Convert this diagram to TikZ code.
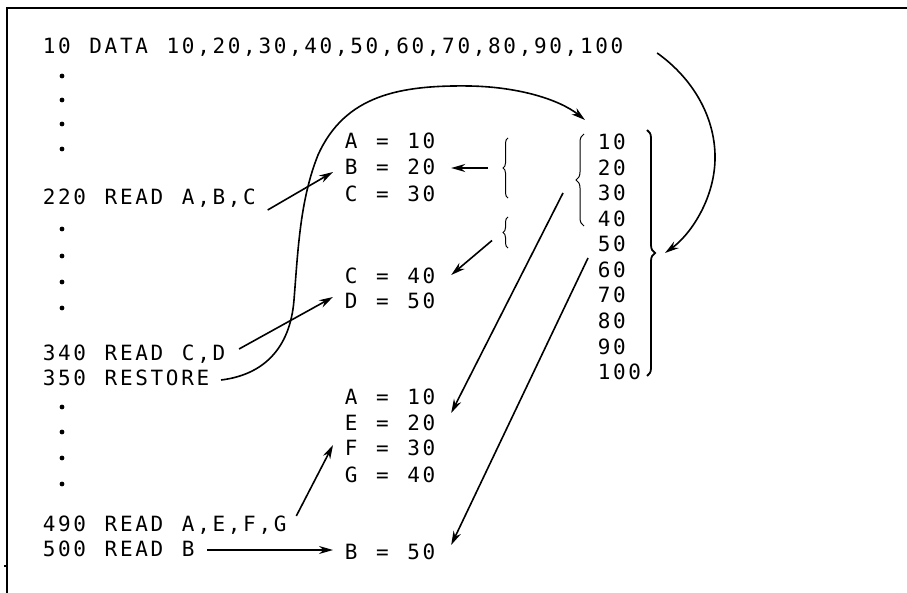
\documentclass[tikz,border=0pt]{standalone}
\usepackage{fontspec}
\newfontfamily\basicfont{DejaVu Sans Mono}[LetterSpace=12.7,WordSpace=1.22]
\usetikzlibrary{arrows.meta,decorations.pathreplacing}

\begin{document}
\begin{tikzpicture}[x=1pt,y=-1pt,line width=1.6pt,
  every node/.style={font=\basicfont\fontsize{21}{24}\selectfont,inner sep=0pt,anchor=base west},
  brc/.style={line width=1pt,decorate,decoration={brace,amplitude=#1}},
  arr/.style={-{Stealth[length=14pt,width=8pt]}}]
  \path[use as bounding box] (0,0) rectangle (907,593);
  \draw (907,8)--(7,8)--(7,593) (4,566)--(7,566);
  % program
  \node (l10) at (42,54) {10 DATA 10,20,30,40,50,60,70,80,90,100};
  \node (l220) at (42,205) {220 READ A,B,C};
  \node (l340) at (42,360) {340 READ C,D};
  \node (l350) at (42,385) {350 RESTORE};
  \node (l490) at (42,531) {490 READ A,E,F,G};
  \node (l500) at (42,556) {500 READ B};
  \fill (62,76) circle (2.4) (62,100) circle (2.4) (62,124) circle (2.4) (62,149) circle (2.4)
    (62,229) circle (2.4) (62,256) circle (2.4) (62,282) circle (2.4) (62,308) circle (2.4)
    (62,407) circle (2.4) (62,432) circle (2.4) (62,458) circle (2.4) (62,484) circle (2.4);
  % variables
  \node (va1) at (344,149) {A = 10};
  \node (vb1) at (344,175) {B = 20};
  \node (vc1) at (344,202) {C = 30};
  \node (vc2) at (344,284) {C = 40};
  \node (vd2) at (344,309) {D = 50};
  \node (va3) at (344,404) {A = 10};
  \node (ve3) at (344,430) {E = 20};
  \node (vf3) at (344,455) {F = 30};
  \node (vg3) at (344,482) {G = 40};
  \node (vb4) at (344,559) {B = 50};
  % data list
  \node (n1) at (597,150) {10};
  \node (n2) at (597,175.5) {20};
  \node (n3) at (597,201) {30};
  \node (n4) at (597,226.5) {40};
  \node (n5) at (597,252) {50};
  \node (n6) at (597,277.5) {60};
  \node (n7) at (597,303) {70};
  \node (n8) at (597,328.5) {80};
  \node (n9) at (597,354) {90};
  \node (n10) at (597,379.5) {100};
  % braces
  \draw[brc=5pt] (508,198) -- coordinate (br1) (508,138);
  \draw[brc=5pt] (508,248) -- coordinate (br2) (508,217);
  \draw[brc=8pt] (584,226) -- coordinate (br3) (584,134);
  \draw[brc=8pt,line width=1.8pt] (647,130) -- coordinate (br4) (647,376);
  % arrows
  \draw[arr] ([xshift=11pt,yshift=-5pt]l220.base east) -- ([xshift=-11pt,yshift=3pt]vb1.base west);
  \draw[arr] ([xshift=13pt,yshift=11pt]l340.base east) -- ([xshift=-11pt,yshift=12pt]vd2.base west);
  \draw[arr] ([xshift=9pt,yshift=15pt]l490.base east) -- ([xshift=-11pt,yshift=10pt]vf3.base west);
  \draw[arr] ([xshift=12pt,yshift=6pt]l500.base east) -- ([xshift=-11pt,yshift=9pt]vb4.base west);
  \draw[arr] ([xshift=-20pt]br1) -- ([xshift=15pt,yshift=7pt]vb1.base east);
  \draw[arr] ([xshift=-16pt,yshift=-8pt]br2) -- ([xshift=15pt,yshift=9pt]vc2.base east);
  \draw[arr] ([xshift=-21pt,yshift=-13pt]br3) -- ([xshift=15pt,yshift=17pt]ve3.base east);
  \draw[arr] ([xshift=-9pt,yshift=19.5pt]n6.base west) -- ([xshift=15pt,yshift=14pt]vb4.base east);
  \draw[arr] ([xshift=11pt,yshift=5pt]l350.base east) .. controls (262,375) and (290,350) .. (294,300)
    .. controls (298,250) and (300,200) .. (318,155)
    .. controls (345,95) and (400,85) .. (470,86)
    .. controls (520,87) and (560,100) .. ([xshift=-12pt,yshift=30pt]n1.base west);
  \draw[arr] ([xshift=33pt,yshift=1pt]l10.base east) .. controls (695,80) and (716,120) .. (715,160)
    .. controls (714,200) and (690,235) .. ([xshift=18pt]br4);
\end{tikzpicture}
\end{document}
